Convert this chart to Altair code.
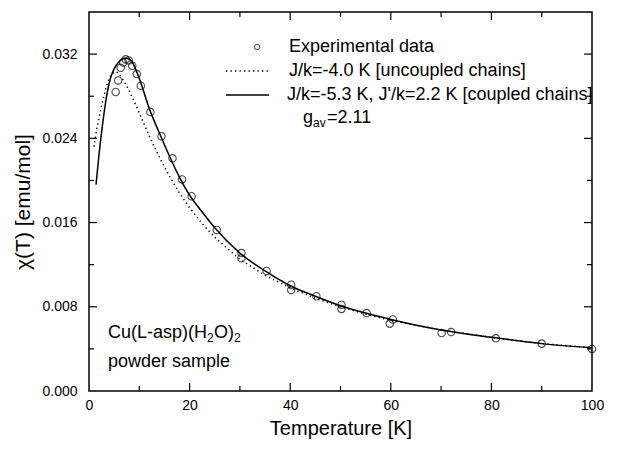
import altair as alt
import pandas as pd

# ---------------- data ----------------
exp_T = [5.3, 5.8, 6.3, 6.8, 7.3, 7.9, 8.6, 9.5, 10.3, 12.2, 14.4, 16.6, 18.5, 20.4,
         25.4, 30.3, 30.3, 35.3, 40.2, 40.2, 45.2, 50.2, 50.2, 55.2, 60.4, 59.8,
         70.1, 72.0, 80.9, 90.0, 100.0]
exp_chi = [0.0284, 0.0295, 0.0307, 0.0312, 0.0315, 0.0314, 0.0309, 0.0301, 0.0290,
           0.0265, 0.0242, 0.0221, 0.0201, 0.0185, 0.0153, 0.0131, 0.0126, 0.0114,
           0.0101, 0.0096, 0.0090, 0.0082, 0.0078, 0.0074, 0.0068, 0.0064, 0.0055,
           0.0056, 0.0050, 0.0045, 0.0040]

unc_T = [1.0, 1.5, 2.0, 2.5, 3.0, 3.5, 4.0, 4.5, 5.0, 5.5, 6.0, 7.0, 8.0, 9.0, 10.0,
         11.0, 12.0, 13.0, 14.0, 16.0, 18.0, 20.0, 22.5, 25.0, 30.0, 35.0, 40.0,
         45.0, 50.0, 55.0, 60.0, 70.0, 80.0, 90.0, 100.0]
unc_chi = [0.0232, 0.0248, 0.0260, 0.0271, 0.0281, 0.0290, 0.0297, 0.0301, 0.0303,
           0.0303, 0.0301, 0.0294, 0.0285, 0.0275, 0.0264, 0.0253, 0.0242, 0.0232,
           0.0222, 0.0204, 0.0188, 0.0174, 0.0159, 0.0146, 0.0125, 0.0110, 0.0098,
           0.0088, 0.0080, 0.0073, 0.0067, 0.0058, 0.0051, 0.0045, 0.0041]

cpl_T = [1.4, 2.0, 2.8, 3.5, 4.2, 5.0, 6.0, 7.0, 7.5, 8.5, 9.5, 10.5, 12.0, 14.0,
         16.0, 18.0, 20.0, 22.5, 25.0, 30.0, 35.0, 40.0, 45.0, 50.0, 55.0, 60.0,
         70.0, 80.0, 90.0, 100.0]
cpl_chi = [0.0196, 0.0225, 0.0257, 0.0280, 0.0296, 0.0306, 0.0313, 0.0316, 0.0316,
           0.0313, 0.0303, 0.0290, 0.0268, 0.0245, 0.0223, 0.0203, 0.0186, 0.0170,
           0.0155, 0.0131, 0.0114, 0.0100, 0.0090, 0.0081, 0.0074, 0.0068, 0.0058,
           0.0051, 0.0045, 0.0041]

x_labels = [0, 20, 40, 60, 80, 100]
y_labels = [0.000, 0.008, 0.016, 0.024, 0.032]
x_major = [20, 40, 60, 80]
x_minor = [10, 30, 50, 70, 90]
y_major = [0.008, 0.016, 0.024, 0.032]
y_minor = [0.004, 0.012, 0.020, 0.028]

# ---------------- styling ----------------
W, H = 503, 379
FONT = "Liberation Sans"

xscale = alt.Scale(domain=[0, 100], nice=False, zero=False)
yscale = alt.Scale(domain=[0, 0.036], nice=False, zero=False)

xaxis = alt.Axis(values=x_labels, format="d", title="Temperature [K]",
                 ticks=False, tickSize=0, domain=False, grid=False,
                 labelFont=FONT, labelFontSize=14, labelColor="black",
                 labelPadding=7, labelFlush=False, labelOverlap=False,
                 titleFont=FONT, titleFontSize=20, titleFontWeight="normal",
                 titleColor="black", titlePadding=6)
yaxis = alt.Axis(values=y_labels, format=".3f", title="χ(T) [emu/mol]",
                 ticks=False, tickSize=0, domain=False, grid=False,
                 labelFont=FONT, labelFontSize=14, labelColor="black",
                 labelPadding=12, labelFlush=False, labelOverlap=False,
                 titleFont=FONT, titleFontSize=21, titleFontWeight="normal",
                 titleColor="black", titlePadding=8)


def X(f):
    return alt.X(f, type="quantitative", scale=xscale, axis=xaxis)


def Y(f):
    return alt.Y(f, type="quantitative", scale=yscale, axis=yaxis)


exp_df = pd.DataFrame({"T": exp_T, "chi": exp_chi})
unc_df = pd.DataFrame({"T": unc_T, "chi": unc_chi})
cpl_df = pd.DataFrame({"T": cpl_T, "chi": cpl_chi})

dotted = alt.Chart(unc_df).mark_line(color="black", strokeWidth=1.5,
                                     strokeDash=[1.3, 3.2]).encode(x=X("T"), y=Y("chi"))
solid = alt.Chart(cpl_df).mark_line(color="black", strokeWidth=1.5,
                                    interpolate="monotone").encode(x=X("T"), y=Y("chi"))
points = alt.Chart(exp_df).mark_point(shape="circle", filled=False, size=55,
                                      color="black", strokeWidth=1.1).encode(
    x=X("T"), y=Y("chi"))


def xticks(vals, length, top):
    y0 = 0 if top else H
    y1 = length if top else H - length
    return alt.Chart(pd.DataFrame({"v": vals})).mark_rule(
        color="black", strokeWidth=1.2).encode(
        x=X("v"), y=alt.value(y0), y2=alt.value(y1))


def yticks(vals, length, right):
    x0 = W if right else 0
    x1 = W - length if right else length
    return alt.Chart(pd.DataFrame({"v": vals})).mark_rule(
        color="black", strokeWidth=1.2).encode(
        y=Y("v"), x=alt.value(x0), x2=alt.value(x1))


def label(txt, x, y, size=18, align="left"):
    return alt.Chart(pd.DataFrame({"t": [txt]})).mark_text(
        align=align, baseline="middle", fontSize=size, font=FONT,
        color="black").encode(x=alt.value(x), y=alt.value(y), text="t:N")


def seg(x0, x1, y, dash=None):
    kw = dict(color="black", strokeWidth=1.5)
    if dash:
        kw["strokeDash"] = dash
    return alt.Chart(pd.DataFrame({"a": [0]})).mark_rule(**kw).encode(
        x=alt.value(x0), x2=alt.value(x1), y=alt.value(y))


legend_sym = alt.Chart(pd.DataFrame({"a": [0]})).mark_point(
    shape="circle", filled=False, size=30, color="black", strokeWidth=1).encode(
    x=alt.value(168), y=alt.value(35))

layers = [
    dotted, solid, points,
    xticks(x_major, 8, False), xticks(x_minor, 5, False),
    xticks(x_major, 8, True), xticks(x_minor, 5, True),
    yticks(y_major, 8, False), yticks(y_minor, 5, False),
    yticks(y_major, 8, True), yticks(y_minor, 5, True),
    legend_sym,
    seg(137, 180, 59, [1.3, 3.2]),
    seg(137, 180, 83),
    label("Experimental data", 200, 35),
    label("J/k=-4.0 K [uncoupled chains]", 200, 59),
    label("J/k=-5.3 K, J'/k=2.2 K [coupled chains]", 198, 83),
    label("g", 214, 106),
    label("av", 224, 111, size=12),
    label("=2.11", 238, 106),
    label("Cu(L-asp)(H", 19, 321),
    label("2", 118, 326, size=12),
    label("O)", 125, 321),
    label("2", 145, 326, size=12),
    label("powder sample", 19, 350),
]

chart = alt.layer(*layers).properties(
    width=W, height=H,
    autosize=alt.AutoSizeParams(type="none"),
    padding={"left": 81, "top": 4, "right": 37, "bottom": 61},
).configure_view(stroke="black", strokeWidth=1.5)

chart.save("out.html", embed_options={"renderer": "svg", "actions": False})
